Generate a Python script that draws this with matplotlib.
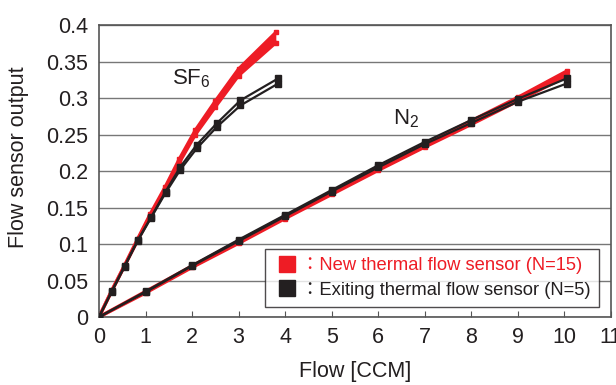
import matplotlib
matplotlib.use("Agg")
import matplotlib.pyplot as plt
from matplotlib.lines import Line2D

plt.rcParams['font.family'] = ['Liberation Sans', 'Noto Sans CJK JP', 'DejaVu Sans']
plt.rcParams['mathtext.fontset'] = 'custom'
plt.rcParams['mathtext.rm'] = 'Liberation Sans'
plt.rcParams['mathtext.it'] = 'Liberation Sans'

RED = '#ee1c25'
BLK = '#231f20'

# SF6 data
sf6_red_x = [0, 0.27, 0.55, 0.83, 1.1, 1.42, 1.73, 2.07, 2.5, 3.0, 3.8]
sf6_red_low = [0, 0.035, 0.070, 0.105, 0.138, 0.174, 0.212, 0.250, 0.288, 0.331, 0.376]
sf6_red_high = [0, 0.036, 0.071, 0.107, 0.141, 0.178, 0.217, 0.256, 0.296, 0.340, 0.390]
sf6_blk_x = [0, 0.27, 0.55, 0.83, 1.12, 1.43, 1.75, 2.1, 2.54, 3.04, 3.85]
sf6_blk_a = [0, 0.035, 0.070, 0.105, 0.137, 0.172, 0.206, 0.236, 0.266, 0.297, 0.327]
sf6_blk_b = [0, 0.034, 0.069, 0.104, 0.136, 0.170, 0.202, 0.231, 0.261, 0.290, 0.320]

# N2 data
n2_x = [0, 1, 2, 3, 4, 5, 6, 7, 8, 9, 10.05]
n2_red_low = [0, 0.033, 0.068, 0.101, 0.135, 0.168, 0.201, 0.233, 0.264, 0.296, 0.330]
n2_red_high = [0, 0.035, 0.070, 0.104, 0.138, 0.171, 0.205, 0.237, 0.269, 0.301, 0.337]
n2_blk_a = [0, 0.035, 0.071, 0.106, 0.140, 0.174, 0.208, 0.240, 0.270, 0.299, 0.327]
n2_blk_b = [0, 0.034, 0.070, 0.104, 0.138, 0.172, 0.205, 0.237, 0.266, 0.295, 0.320]

x_ticks = list(range(0, 12))
y_ticks = [0, 0.05, 0.1, 0.15, 0.2, 0.25, 0.3, 0.35, 0.4]
y_tick_labels = ['0', '0.05', '0.1', '0.15', '0.2', '0.25', '0.3', '0.35', '0.4']

fig = plt.figure(figsize=(6.16, 3.85), dpi=100)
ax = fig.add_axes([0.1607, 0.1766, 0.831, 0.758])

# red bands
for xs, lo, hi in [(sf6_red_x, sf6_red_low, sf6_red_high), (n2_x, n2_red_low, n2_red_high)]:
    ax.fill_between(xs, lo, hi, color=RED, lw=0, zorder=2)
    ax.plot(xs, lo, color=RED, lw=2.4, marker='s', ms=3.5, zorder=2)
    ax.plot(xs, hi, color=RED, lw=2.4, marker='s', ms=3.5, zorder=2)

# black lines
for xs, ys in [(sf6_blk_x, sf6_blk_a), (sf6_blk_x, sf6_blk_b), (n2_x, n2_blk_a), (n2_x, n2_blk_b)]:
    ax.plot(xs, ys, color=BLK, lw=1.6, marker='s', ms=4, zorder=3)

ax.set_xlim(0, 11)
ax.set_ylim(0, 0.4)
ax.set_xticks(x_ticks)
ax.set_yticks(y_ticks)
ax.set_yticklabels(y_tick_labels)
ax.tick_params(axis='x', direction='in', length=4, color='#555555', labelsize=15.5, pad=7, labelcolor=BLK)
ax.tick_params(axis='y', length=0, labelsize=15.5, pad=8, labelcolor=BLK)
ax.grid(axis='y', color='#777777', lw=1)
ax.set_axisbelow(True)
for s in ax.spines.values():
    s.set_color('#555555')
    s.set_linewidth(1.2)

ax.set_xlabel('Flow [CCM]', fontsize=15.5, color=BLK)
ax.set_ylabel('Flow sensor output', fontsize=15.5, color=BLK)
ax.xaxis.set_label_coords(0.5, -0.188)
ax.yaxis.set_label_coords(-0.158, 0.546)
ax.xaxis.label.set_va('center')
ax.yaxis.label.set_va('center')

ax.text(1.99, 0.326, r'SF$_6$', fontsize=16, color=BLK, ha='center', va='center')
ax.text(6.6, 0.272, r'N$_2$', fontsize=16, color=BLK, ha='center', va='center')

handles = [Line2D([], [], ls='none', marker='s', ms=11, color=RED),
           Line2D([], [], ls='none', marker='s', ms=11, color=BLK)]
labels = ['：New thermal flow sensor (N=15)', '：Exiting thermal flow sensor (N=5)']
leg = ax.legend(handles, labels, loc='lower right', bbox_to_anchor=(0.977, 0.035),
                fontsize=13.2, frameon=True, fancybox=False, edgecolor=BLK,
                handletextpad=0.0, borderpad=0.45, labelspacing=0.4, handlelength=1.5,
                borderaxespad=0)
leg.get_frame().set_linewidth(1.0)
leg.get_texts()[0].set_color(RED)
leg.get_texts()[1].set_color(BLK)

fig.savefig('out.png', dpi=100)
